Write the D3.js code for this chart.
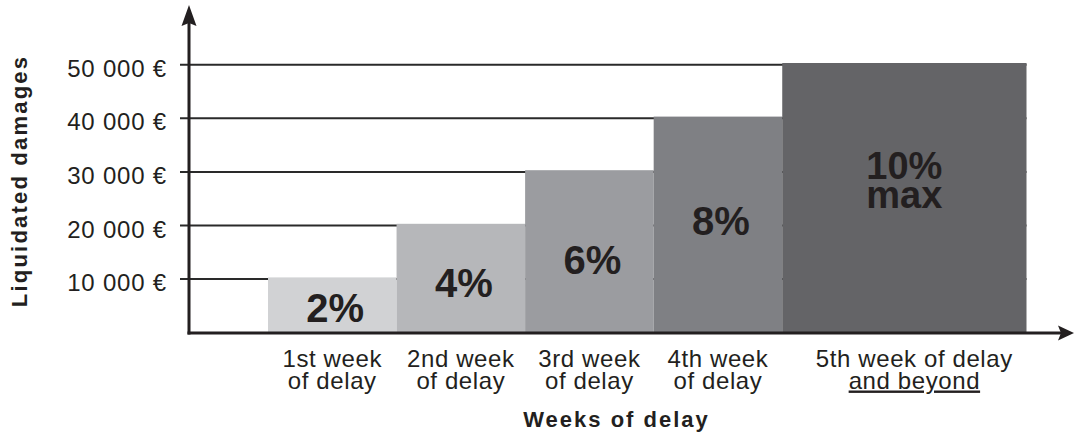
<!DOCTYPE html>
<html>
<head>
<meta charset="utf-8">
<script src="https://cdn.jsdelivr.net/npm/d3@7"></script>
<style>
  html, body { margin: 0; padding: 0; background: #ffffff; }
  svg { display: block; }
  text { font-family: "Liberation Sans", Arial, Helvetica, sans-serif; fill: #231f20; }
</style>
</head>
<body>
<svg id="chart" width="1075" height="439"></svg>
<script>
// ---- data ----
const catLine1 = ["1st week", "2nd week", "3rd week", "4th week", "5th week of delay"];
const catLine2 = ["of delay", "of delay", "of delay", "of delay", "and beyond"];
const weekStart = [0, 1, 2, 3, 4];
const weekEnd = [1, 2, 3, 4, 5.9];
const damages = [10000, 20000, 30000, 40000, 50000];
const rateLabels = ["2%", "4%", "6%", "8%", "10%"];
const rateSubLabels = ["", "", "", "", "max"];
const yTickValues = [10000, 20000, 30000, 40000, 50000];
const yTickLabels = ["10 000 €", "20 000 €", "30 000 €", "40 000 €", "50 000 €"];
const xTitle = "Weeks of delay";
const yTitle = "Liquidated damages";

// ---- layout / style ----
const barColors = ["#d1d2d4", "#b6b7ba", "#9b9ca0", "#7f8084", "#646467"];
const rateLabelAt = [1679, 6343, 10634, 17910, 28300]; // baseline, in value units
const subLabelAt = 22890;
const ink = "#231f20";
const originX = 189;

const svg = d3.select("#chart");
const x = d3.scaleLinear().domain([0, 5.9]).range([268, 1026.5]);
const y = d3.scaleLinear().domain([0, 50000]).range([331, 63]);

// gridlines
svg.append("g").selectAll("line").data(yTickValues).join("line")
  .attr("x1", originX - 9).attr("x2", x(5.9))
  .attr("y1", d => y(d) + 1.7).attr("y2", d => y(d) + 1.7)
  .attr("stroke", "#2a2a2a").attr("stroke-width", 2);

// bars
svg.append("g").selectAll("rect").data(damages).join("rect")
  .attr("x", (d, i) => x(weekStart[i]))
  .attr("width", (d, i) => x(weekEnd[i]) - x(weekStart[i]))
  .attr("y", d => y(d))
  .attr("height", d => y(0) - y(d) + 2)
  .attr("fill", (d, i) => barColors[i]);

// percent labels
svg.append("g").selectAll("text").data(rateLabels).join("text")
  .attr("x", (d, i) => (x(weekStart[i]) + x(weekEnd[i])) / 2 + (i < 4 ? 3 : 0))
  .attr("y", (d, i) => y(rateLabelAt[i]))
  .attr("text-anchor", "middle")
  .attr("font-weight", "bold")
  .attr("font-size", (d, i) => i < 4 ? 40 : 38)
  .text(d => d);
svg.append("g").selectAll("text").data(rateSubLabels.filter(s => s)).join("text")
  .attr("x", (x(weekStart[4]) + x(weekEnd[4])) / 2)
  .attr("y", y(subLabelAt))
  .attr("text-anchor", "middle")
  .attr("font-weight", "bold")
  .attr("font-size", 38)
  .text(d => d);

// axes lines
svg.append("line")
  .attr("x1", originX).attr("x2", originX)
  .attr("y1", y(0) + 3.5).attr("y2", 20)
  .attr("stroke", ink).attr("stroke-width", 3);
svg.append("path")
  .attr("d", `M${originX},5 L${originX + 7.5},26 L${originX},23 L${originX - 7.5},26 Z`)
  .attr("fill", ink);
svg.append("line")
  .attr("x1", originX - 1.5).attr("x2", 1062)
  .attr("y1", y(0) + 2).attr("y2", y(0) + 2)
  .attr("stroke", ink).attr("stroke-width", 3);
svg.append("path")
  .attr("d", `M1074,${y(0) + 2} L1058,${y(0) + 2 - 7.5} L1061,${y(0) + 2} L1058,${y(0) + 2 + 7.5} Z`)
  .attr("fill", ink);

// y tick labels
svg.append("g").selectAll("text").data(yTickValues).join("text")
  .attr("x", 167)
  .attr("y", d => y(d) + 13.7)
  .attr("text-anchor", "end")
  .attr("font-size", 24)
  .attr("letter-spacing", "0.8px")
  .text((d, i) => yTickLabels[i]);

// x category labels
const catCenter = i => (x(weekStart[i]) + x(weekEnd[i])) / 2 + (i === 4 ? 10 : 0);
svg.append("g").selectAll("text").data(catLine1).join("text")
  .attr("x", (d, i) => catCenter(i))
  .attr("y", 367)
  .attr("text-anchor", "middle")
  .attr("font-size", 24)
  .attr("letter-spacing", "0.6px")
  .text(d => d);
svg.append("g").selectAll("text").data(catLine2).join("text")
  .attr("x", (d, i) => catCenter(i))
  .attr("y", 388.5)
  .attr("text-anchor", "middle")
  .attr("font-size", 24)
  .attr("letter-spacing", "0.6px")
  .attr("text-decoration", (d, i) => i === 4 ? "underline" : null)
  .text(d => d);

// axis titles
svg.append("text")
  .attr("x", 616.5).attr("y", 427.3)
  .attr("text-anchor", "middle")
  .attr("font-weight", "bold")
  .attr("font-size", 22)
  .attr("letter-spacing", "2px")
  .text(xTitle);
svg.append("text")
  .attr("transform", "translate(27,181) rotate(-90)")
  .attr("text-anchor", "middle")
  .attr("font-weight", "bold")
  .attr("font-size", 22)
  .attr("letter-spacing", "2.2px")
  .text(yTitle);
</script>
</body>
</html>
